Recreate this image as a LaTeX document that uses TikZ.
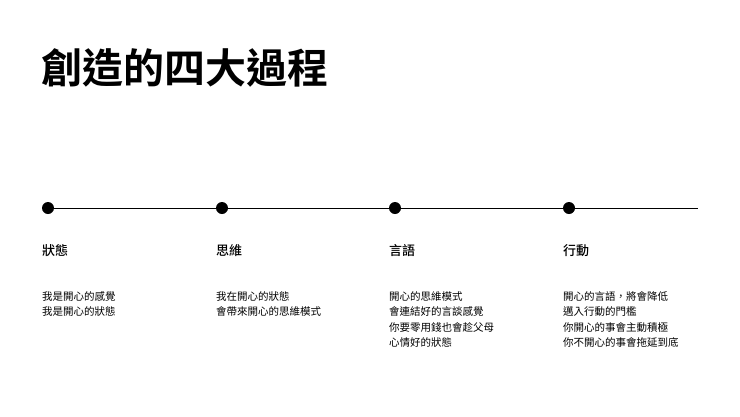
\documentclass[tikz,border=0pt]{standalone}
\usepackage{fontspec}
\newfontfamily\cjk{Noto Sans CJK TC}
\newfontfamily\cjkm{Noto Sans CJK TC Medium}
\newfontfamily\cjkb{Noto Sans CJK TC Bold}
\begin{document}
\begin{tikzpicture}[x=1pt,y=-1pt,
  dot/.style={circle,fill=black,inner sep=0pt,minimum size=12pt},
  head/.style={anchor=west,font=\cjkm\fontsize{13}{15}\selectfont,inner sep=0pt},
  body/.style={anchor=north west,align=left,font=\cjk\fontsize{10.5}{15.5}\selectfont,inner sep=0pt}]
\useasboundingbox[fill=white] (0,0) rectangle (740,416);
\node[anchor=west,inner sep=0pt,font=\cjkb\fontsize{41}{44}\selectfont] (title) at (41,68) {創造的四大過程};
\coordinate (ls) at (48,208);
\coordinate (le) at (698,208);
\draw[line width=0.8pt] (ls) -- (le);
\foreach \i/\x in {1/48,2/222,3/395,4/569}{\node[dot] (d\i) at (\x,208) {};}
\node[head] (h1) at (42,251) {狀態};
\node[head] (h2) at (216,251) {思維};
\node[head] (h3) at (389,251) {言語};
\node[head] (h4) at (563,251) {行動};
\node[body] (b1) at (42,291) {我是開心的感覺\\我是開心的狀態};
\node[body] (b2) at (216,291) {我在開心的狀態\\會帶來開心的思維模式};
\node[body] (b3) at (389,291) {開心的思維模式\\會連結好的言談感覺\\你要零用錢也會趁父母\\心情好的狀態};
\node[body] (b4) at (563,291) {開心的言語，將會降低\\邁入行動的門檻\\你開心的事會主動積極\\你不開心的事會拖延到底};
\end{tikzpicture}
\end{document}
